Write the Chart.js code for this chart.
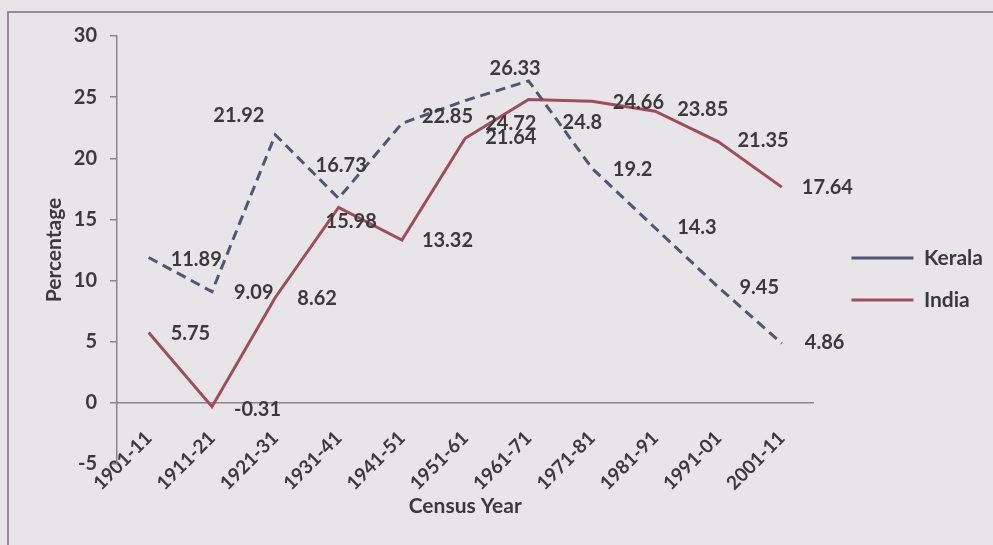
<!DOCTYPE html>
<html>
<head>
<meta charset="utf-8">
<script src="https://cdn.jsdelivr.net/npm/chart.js@4.4.1/dist/chart.umd.min.js"></script>
<style>
  html, body { margin: 0; padding: 0; background: #e7e5e8; overflow: hidden; }
  #wrap { position: relative; width: 993px; height: 545px; }
  #frame { position: absolute; left: 7px; top: 11px; width: 1000px; height: 600px; border: 2px solid #958a96; box-sizing: border-box; }
  canvas { position: absolute; left: 0; top: 0; }
</style>
</head>
<body>
<div id="wrap">
  <div id="frame"></div>
  <canvas id="c" width="993" height="545"></canvas>
</div>
<script>
const categories = ['1901-11','1911-21','1921-31','1931-41','1941-51','1951-61','1961-71','1971-81','1981-91','1991-01','2001-11'];
const keralaValues = [11.89, 9.09, 21.92, 16.73, 22.85, 24.72, 26.33, 19.2, 14.3, 9.45, 4.86];
const indiaValues = [5.75, -0.31, 8.62, 15.98, 13.32, 21.64, 24.8, 24.66, 23.85, 21.35, 17.64];
const yTicks = [-5, 0, 5, 10, 15, 20, 25, 30];

// label placement relative to each point: [dx to label left edge, dy to label middle]
const keralaLabelOffsets = [[22,2],[22,1],[-62,-19],[-23,-33],[20,-7],[20,23],[-39,-12],[21,1],[22,0],[21,0],[23,-1]];
const indiaLabelOffsets = [[22,1],[22,3],[22,1],[-13,14],[20,1],[20,-1],[34,23],[21,1],[22,-2],[19,-1],[20,0]];

const TEXT = '#3a3a3a';
const AXIS = '#8d8290';

const dataLabels = {
  id: 'dataLabels',
  afterDatasetsDraw(chart) {
    const ctx = chart.ctx;
    ctx.save();
    ctx.font = 'bold 20px Lato';
    ctx.fillStyle = TEXT;
    ctx.textAlign = 'left';
    ctx.textBaseline = 'middle';
    chart.data.datasets.forEach((ds, di) => {
      const meta = chart.getDatasetMeta(di);
      meta.data.forEach((pt, i) => {
        const off = ds.labelOffsets[i];
        ctx.fillText(String(ds.data[i]), pt.x + off[0], pt.y + off[1]);
      });
    });
    ctx.restore();
  }
};

Chart.defaults.font.family = 'Lato';
Chart.defaults.font.weight = 'bold';
Chart.defaults.color = TEXT;

new Chart(document.getElementById('c'), {
  type: 'line',
  data: {
    labels: categories,
    datasets: [
      { label: 'Kerala', data: keralaValues, labelOffsets: keralaLabelOffsets,
        borderColor: '#4f5573', backgroundColor: '#4f5573', borderWidth: 3, borderDash: [10, 6],
        pointRadius: 0, tension: 0, fill: false },
      { label: 'India', data: indiaValues, labelOffsets: indiaLabelOffsets,
        borderColor: '#a14c5c', backgroundColor: '#a14c5c', borderWidth: 3,
        pointRadius: 0, tension: 0, fill: false }
    ]
  },
  options: {
    responsive: false,
    animation: false,
    events: [],
    layout: { padding: { left: 0, top: 36, right: 0, bottom: 23 } },
    plugins: {
      tooltip: { enabled: false },
      legend: {
        position: 'right',
        align: 'center',
        labels: {
          usePointStyle: true,
          pointStyle: 'line',
          pointStyleWidth: 62,
          padding: 21,
          color: TEXT,
          font: { size: 21, weight: 'bold', family: 'Lato' }
        }
      }
    },
    scales: {
      x: {
        type: 'category',
        position: { y: 0 },
        offset: true,
        grid: { display: false },
        border: { display: true, color: AXIS, width: 1.5 },
        ticks: { minRotation: 45, maxRotation: 45, autoSkip: false, padding: 16, color: TEXT,
                 font: { size: 19, weight: 'bold' } }
      },
      xPad: {
        type: 'linear',
        position: 'bottom',
        display: true,
        grid: { display: false },
        border: { display: false },
        ticks: { display: false },
        title: { display: true, text: 'Census Year', color: TEXT,
                 font: { size: 21, weight: 'bold' }, padding: { top: 0, bottom: 3.4 } },
        afterFit(s) { s.height = 58; }
      },
      y: {
        type: 'linear',
        min: -5, max: 30,
        afterBuildTicks(s) { s.ticks = yTicks.map(v => ({ value: v })); },
        grid: { drawOnChartArea: false, drawTicks: true, tickLength: 7, color: AXIS, lineWidth: 1.5 },
        border: { display: true, color: AXIS, width: 1.5 },
        ticks: { padding: 13, color: TEXT, font: { size: 20, weight: 'bold' } },
        title: { display: true, text: 'Percentage', color: TEXT,
                 font: { size: 21, weight: 'bold' }, padding: { top: 41.4, bottom: 0 } },
        afterFit(s) { s.width = 117; }
      },
      yPad: {
        type: 'linear',
        position: 'right',
        display: true,
        grid: { display: false },
        border: { display: false },
        ticks: { display: false },
        afterFit(s) { s.width = 17; }
      }
    }
  },
  plugins: [dataLabels]
});
</script>
</body>
</html>
